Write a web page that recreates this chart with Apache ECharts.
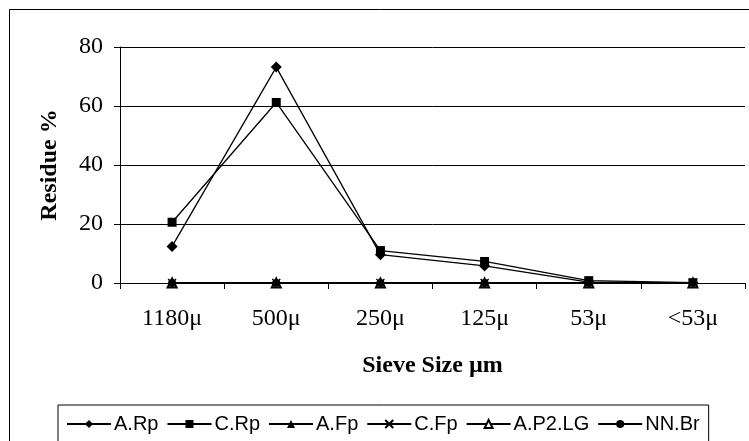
<!DOCTYPE html>
<html>
<head>
<meta charset="UTF-8">
<script src="https://cdn.jsdelivr.net/npm/echarts@6/dist/echarts.min.js"></script>
<style>
  html, body { margin: 0; padding: 0; background: #fff; }
</style>
</head>
<body>
<div id="main" style="width:749px;height:441px;"></div>
<script>
// sieve sizes and residue values
const sizes = ['1180\u03bc', '500\u03bc', '250\u03bc', '125\u03bc', '53\u03bc', '<53\u03bc'];
const aRp = [12.4, 73.2, 9.6, 5.8, 0.3, 0];
const cRp = [20.6, 61.2, 11.0, 7.3, 0.8, 0.1];
const aFp = [0, 0, 0, 0, 0, 0];
const cFp = [0, 0, 0, 0, 0, 0];
const aP2LG = [0, 0, 0, 0, 0, 0];
const nnBr = [0, 0, 0, 0, 0, 0];

const names = ['A.Rp', 'C.Rp', 'A.Fp', 'C.Fp', 'A.P2.LG', 'NN.Br'];
const values = [aRp, cRp, aFp, cFp, aP2LG, nnBr];
const symbols = ['diamond', 'rect', 'triangle', 'path://M0,0L10,10M10,0L0,10', 'emptyTriangle', 'circle'];
const symSizes = [11, 9, 10, 8, 9, 8];

var chart = echarts.init(document.getElementById('main'));

var series = names.map(function (n, i) {
    return {
        name: n,
        type: 'line',
        data: values[i],
        symbol: symbols[i],
        symbolSize: symSizes[i],
        showAllSymbol: true,
        lineStyle: { color: '#000', width: 1.3 },
        itemStyle: { color: '#000', borderColor: '#000', borderWidth: i === 3 ? 1.3 : 0 },
        emphasis: { disabled: true }
    };
});
// empty triangle needs an outline
series[4].itemStyle = { color: '#000', borderColor: '#000', borderWidth: 1 };

chart.setOption({
    animation: false,
    backgroundColor: '#fff',
    graphic: [{
        type: 'rect',
        shape: { x: 9.5, y: 9.5, width: 800, height: 500 },
        style: { fill: null, stroke: '#000', lineWidth: 1 },
        z: -1
    }],
    grid: { left: 120, right: 4, top: 47, bottom: 158 },
    legend: {
        data: names,
        left: 58,
        top: 405,
        padding: [9, 9, 14, 8],
        itemGap: 8,
        itemWidth: 44,
        itemHeight: 10,
        borderColor: '#000',
        borderWidth: 1,
        textStyle: { fontFamily: 'Liberation Sans', fontSize: 20, color: '#000', padding: [0, 0, 0, -2] }
    },
    xAxis: {
        type: 'category',
        data: sizes,
        boundaryGap: true,
        name: 'Sieve Size \u00b5m',
        nameLocation: 'middle',
        nameGap: 71,
        nameTextStyle: { fontFamily: 'Liberation Serif', fontWeight: 'bold', fontSize: 24, color: '#000' },
        axisLine: { lineStyle: { color: '#000', width: 1 } },
        axisTick: { show: true, length: 6, inside: false, lineStyle: { color: '#000' } },
        axisLabel: { fontFamily: 'Liberation Serif', fontSize: 24, color: '#000', margin: 24 },
        splitLine: { show: false }
    },
    yAxis: {
        type: 'value',
        min: 0,
        max: 80,
        interval: 20,
        name: 'Residue %',
        nameLocation: 'middle',
        nameGap: 58,
        nameRotate: 90,
        nameTextStyle: { fontFamily: 'Liberation Serif', fontWeight: 'bold', fontSize: 24, color: '#000' },
        axisLine: { show: true, lineStyle: { color: '#000', width: 1 } },
        axisTick: { show: true, length: 6, lineStyle: { color: '#000' } },
        axisLabel: { fontFamily: 'Liberation Serif', fontSize: 24, color: '#000', margin: 17 },
        splitLine: { show: true, lineStyle: { color: '#000', width: 1 } }
    },
    series: series
});
</script>
</body>
</html>
